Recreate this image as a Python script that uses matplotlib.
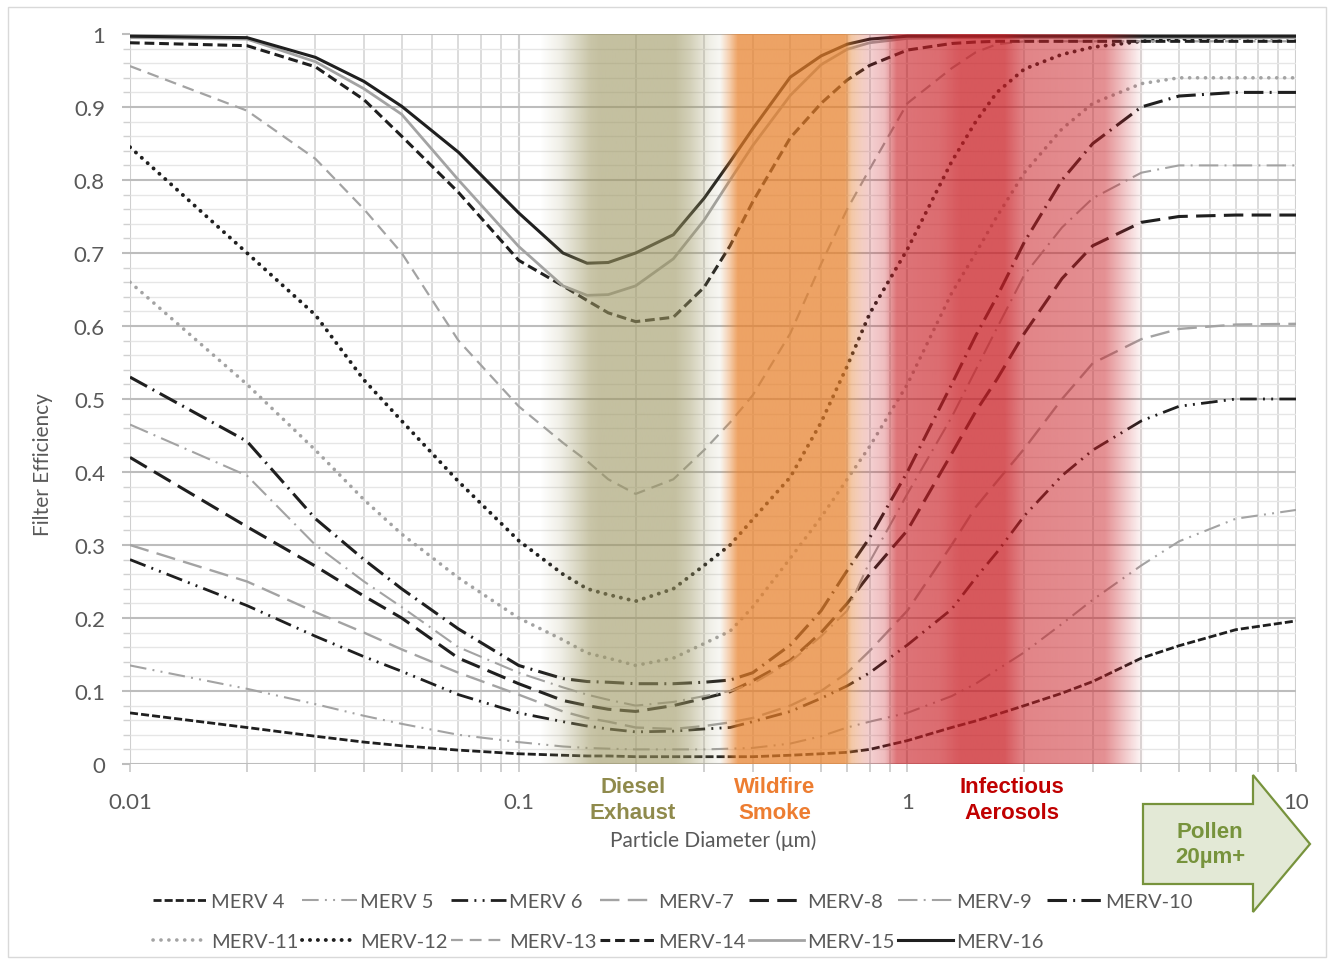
import numpy as np
import matplotlib
matplotlib.use("Agg")
import matplotlib.pyplot as plt
from matplotlib.ticker import MultipleLocator, LogLocator, FuncFormatter, NullFormatter
from matplotlib.patches import Polygon, Rectangle
from matplotlib.colors import to_rgb

plt.rcParams['font.family'] = ['Lato', 'DejaVu Sans']
plt.rcParams['lines.scale_dashes'] = False

# === Data ===
diameter_um = [0.01, 0.02, 0.03, 0.04, 0.05, 0.07, 0.1, 0.13, 0.15, 0.17, 0.2, 0.25, 0.3, 0.35,
               0.4, 0.5, 0.6, 0.7, 0.8, 1, 1.3, 1.5, 1.7, 2, 2.5, 3, 4, 5, 7, 10]

merv4 = [.070, .050, .038, .030, .025, .019, .014, .012, .011, .011, .010, .010, .010, .010,
         .010, .012, .014, .016, .020, .032, .050, .059, .068, .080, .097, .113, .145, .162, .184, .196]
merv5 = [.135, .103, .082, .066, .055, .040, .030, .024, .022, .021, .020, .020, .020, .021,
         .022, .028, .038, .050, .058, .070, .093, .110, .129, .153, .192, .225, .272, .305, .336, .348]
merv6 = [.280, .217, .175, .147, .127, .095, .070, .058, .052, .048, .044, .045, .048, .050,
         .058, .072, .090, .107, .125, .163, .212, .255, .290, .340, .395, .430, .470, .490, .500, .500]
merv7 = [.300, .250, .208, .180, .157, .125, .095, .072, .063, .058, .050, .048, .052, .057,
         .063, .080, .100, .125, .155, .210, .300, .352, .387, .432, .500, .549, .582, .596, .602, .603]
merv8 = [.420, .325, .271, .230, .200, .145, .110, .087, .080, .075, .072, .080, .090, .099,
         .114, .142, .180, .220, .260, .320, .425, .483, .527, .590, .665, .710, .742, .750, .752, .752]
merv9 = [.465, .395, .300, .250, .215, .160, .125, .105, .095, .088, .080, .085, .093, .100,
         .110, .140, .175, .210, .277, .370, .475, .540, .597, .670, .735, .775, .810, .820, .820, .820]
merv10 = [.530, .442, .336, .280, .240, .185, .135, .117, .113, .112, .110, .110, .112, .115,
          .125, .163, .210, .265, .310, .400, .520, .587, .640, .715, .800, .850, .900, .915, .920, .920]
merv11 = [.660, .520, .430, .362, .315, .255, .200, .170, .152, .145, .135, .145, .165, .182,
          .215, .282, .338, .390, .435, .520, .645, .700, .750, .810, .870, .905, .932, .940, .940, .940]
merv12 = [.845, .700, .615, .526, .470, .387, .306, .260, .240, .232, .223, .240, .272, .300,
          .335, .393, .468, .545, .617, .705, .825, .880, .920, .952, .972, .982, .990, .993, .995, .995]
merv13 = [.956, .895, .829, .760, .700, .580, .490, .440, .415, .390, .370, .390, .430, .468,
          .505, .590, .685, .760, .815, .905, .953, .975, .986, .990, .990, .990, .990, .990, .990, .990]
merv14 = [.988, .984, .955, .910, .860, .783, .690, .655, .635, .618, .606, .612, .653, .710,
          .770, .858, .905, .937, .957, .978, .987, .989, .990, .990, .990, .990, .990, .990, .990, .990]
merv15 = [.995, .993, .962, .925, .890, .800, .709, .655, .642, .643, .655, .692, .745, .800,
          .847, .916, .958, .979, .988, .994, .995, .995, .995, .995, .995, .995, .995, .995, .995, .995]
merv16 = [.997, .995, .968, .935, .901, .838, .755, .700, .686, .687, .700, .725, .775, .825,
          .870, .941, .970, .986, .993, .997, .997, .997, .997, .997, .997, .997, .997, .997, .997, .997]

series = [merv4, merv5, merv6, merv7, merv8, merv9, merv10,
          merv11, merv12, merv13, merv14, merv15, merv16]
labels = ["MERV 4", "MERV 5", "MERV 6", "MERV-7", "MERV-8", "MERV-9", "MERV-10",
          "MERV-11", "MERV-12", "MERV-13", "MERV-14", "MERV-15", "MERV-16"]

# particle bands (um) with their opacity profile
diesel_um = [0.1135, 0.1277, 0.1526, 0.1619, 0.2525, 0.276, 0.3106, 0.3496]
diesel_alpha = [0, .15, .55, .6, .6, .45, .15, 0]
smoke_um = [0.3296, 0.3665, 0.691, 0.7203, 0.8015]
smoke_alpha = [0, .72, .72, .4, 0]
aerosol_um = [0.7117, 0.792, 0.876, 0.940, 1.213, 1.366, 1.783, 2.007, 3.224, 4.086]
aerosol_alpha = [0, .2, .3, .62, .66, .75, .75, .55, .5, 0]

# === Styles ===
BLACK = '#1f1f1f'
GRAY = '#a3a3a3'
TXT = '#595959'
dd = (12, 4.5, 1.4, 4.5, 1.4, 4.5)
dl = (14, 4.5, 1.4, 4.5)
styles = [
    dict(color=BLACK, lw=2.0, ls=(0, (5.8, 2.2))),
    dict(color=GRAY, lw=1.5, ls=(0, dd)),
    dict(color=BLACK, lw=2.0, ls=(0, dd)),
    dict(color=GRAY, lw=1.7, ls=(0, (14, 6))),
    dict(color=BLACK, lw=2.2, ls=(0, (14, 6))),
    dict(color=GRAY, lw=1.5, ls=(0, dl)),
    dict(color=BLACK, lw=2.2, ls=(0, dl)),
    dict(color=GRAY, lw=2.6, ls=(0, (0.1, 5.6)), dash_capstyle='round'),
    dict(color=BLACK, lw=2.8, ls=(0, (0.1, 5.6)), dash_capstyle='round'),
    dict(color=GRAY, lw=1.6, ls=(0, (8.5, 5))),
    dict(color=BLACK, lw=2.2, ls=(0, (7, 3.5))),
    dict(color=GRAY, lw=2.0, ls='-'),
    dict(color=BLACK, lw=2.2, ls='-'),
]

W, H = 1330, 962
fig = plt.figure(figsize=(W / 100, H / 100), dpi=100)
ax = fig.add_axes([130 / W, 1 - 765 / H, (1296 - 130) / W, (765 - 35) / H])

lines = []
for y, lab, st in zip(series, labels, styles):
    ln, = ax.plot(diameter_um, y, label=lab, zorder=3, **st)
    lines.append(ln)

ax.set_xscale('log')
ax.set_xlim(0.01, 10)
ax.set_ylim(0, 1)
for s in ax.spines.values():
    s.set_visible(False)

ax.xaxis.set_major_locator(LogLocator(base=10))
ax.xaxis.set_minor_locator(LogLocator(base=10, subs=np.arange(2, 10)))
ax.xaxis.set_major_formatter(FuncFormatter(lambda v, p: f"{v:g}"))
ax.xaxis.set_minor_formatter(NullFormatter())
ax.yaxis.set_major_locator(MultipleLocator(0.1))
ax.yaxis.set_minor_locator(MultipleLocator(0.02))
ax.yaxis.set_major_formatter(FuncFormatter(lambda v, p: f"{v:.1f}".rstrip('0').rstrip('.') if v else "0"))

ax.grid(which='major', axis='y', color='#bdbdbd', lw=1.5)
ax.grid(which='minor', axis='y', color='#e6e6e6', lw=1.0)
ax.grid(which='major', axis='x', color='#cfcfcf', lw=1.5)
ax.grid(which='minor', axis='x', color='#d9d9d9', lw=1.3)
ax.set_axisbelow(True)

ax.tick_params(axis='y', which='major', length=6, width=1.5, color='#bdbdbd',
               pad=12, labelsize=16, labelcolor=TXT)
ax.tick_params(axis='y', which='minor', length=5, width=1, color='#d0d0d0')
ax.tick_params(axis='x', which='both', length=6, width=1.2, color='#c8c8c8')
ax.tick_params(axis='x', which='major', pad=14, labelsize=16, labelcolor=TXT)

ax.set_ylabel("Filter Efficiency", fontsize=15, color=TXT)
ax.yaxis.set_label_coords(-0.066, 0.411)
ax.set_xlabel("Particle Diameter (μm)", fontsize=15, color=TXT)
ax.xaxis.set_label_coords(0.5, -0.09)

# translucent bands drawn over the curves
band_ax = fig.add_axes(ax.get_position(), zorder=ax.get_zorder() + 1)
xs = np.linspace(-2, 1, 1500)
for stops, alphas, color in [(diesel_um, diesel_alpha, '#9d9661'),
                             (smoke_um, smoke_alpha, '#e77f28'),
                             (aerosol_um, aerosol_alpha, '#ca2026')]:
    rgba = np.zeros((1, xs.size, 4))
    rgba[..., :3] = to_rgb(color)
    rgba[..., 3] = np.interp(xs, np.log10(stops), alphas)
    band_ax.imshow(rgba, extent=(-2, 1, 0, 1), aspect='auto', interpolation='bilinear')
band_ax.set_xlim(-2, 1)
band_ax.set_ylim(0, 1)
band_ax.axis('off')

bold = dict(fontsize=16, fontweight='bold', ha='center', va='center',
            family=['Liberation Sans', 'DejaVu Sans'], linespacing=1.3)
tr = ax.get_xaxis_transform()
ax.text(0.197, -0.049, "Diesel\nExhaust", transform=tr, color='#8f8a4c', **bold)
ax.text(0.456, -0.049, "Wildfire\nSmoke", transform=tr, color='#ed7d31', **bold)
ax.text(1.86, -0.049, "Infectious\nAerosols", transform=tr, color='#c00000', **bold)

# pollen arrow
arrow_px = [(1143, 805), (1253, 805), (1253, 776), (1310, 845), (1253, 913), (1253, 885), (1143, 885)]
fig.add_artist(Polygon([(x / W, 1 - y / H) for x, y in arrow_px], closed=True,
                       transform=fig.transFigure, fc='#e3e9d6', ec='#77933c', lw=1.6, zorder=-1))
fig.text(1210 / W, 1 - 845 / H, "Pollen\n20µm+", color='#77933c', zorder=-1, **bold)

# legend: one small legend per column so the columns sit on an even pitch
for c in range(7):
    hs = [lines[c]] + ([lines[7 + c]] if c + 7 < len(lines) else [])
    fig.legend(handles=hs, labels=[h.get_label() for h in hs], loc='upper left',
               bbox_to_anchor=((153 + 149 * c) / W, 1 - 894 / H), frameon=False,
               borderpad=0, borderaxespad=0, handlelength=2.75, handletextpad=0.12,
               labelspacing=1.14, fontsize=14.5, labelcolor=TXT)

fig.add_artist(Rectangle((8 / W, 4 / H), (1326 - 8) / W, (958 - 8) / H, transform=fig.transFigure,
                         fill=False, ec='#d9d9d9', lw=1))

fig.savefig("out.png", dpi=100)
